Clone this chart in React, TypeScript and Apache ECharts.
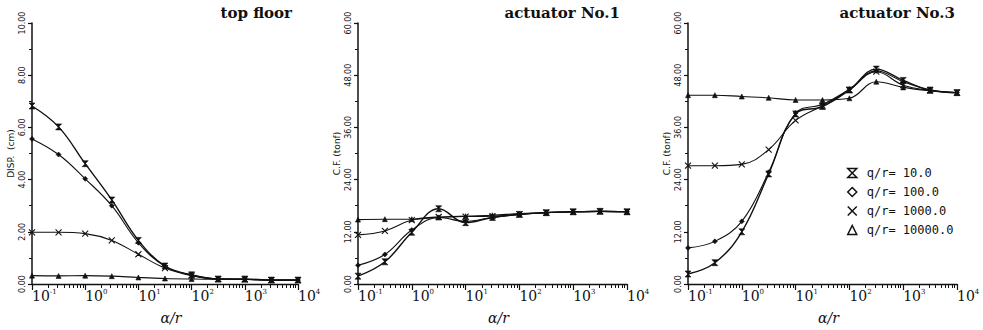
import React, { useEffect, useRef } from "react";
import * as echarts from "echarts";

// alpha / r values (log spaced, half decades)
const alphaR = [0.1, 0.316, 1, 3.16, 10, 31.6, 100, 316, 1000, 3160, 10000];
const seriesNames = ["q/r= 10.0", "q/r= 100.0", "q/r= 1000.0", "q/r= 10000.0"];
const panelTitles = ["top floor", "actuator No.1", "actuator No.3"];
const xTickLabels = [0.1, 1, 10, 100, 1000, 10000];
const xMinorTicks = [
  0.2, 0.3, 0.4, 0.5, 0.6, 0.7, 0.8, 0.9,
  2, 3, 4, 5, 6, 7, 8, 9,
  20, 30, 40, 50, 60, 70, 80, 90,
  200, 300, 400, 500, 600, 700, 800, 900,
  2000, 3000, 4000, 5000, 6000, 7000, 8000, 9000,
];

// top floor displacement (cm)
const disp10 = [6.82, 6.02, 4.61, 3.22, 1.67, 0.69, 0.35, 0.19, 0.19, 0.15, 0.15];
const disp100 = [5.56, 4.96, 4.03, 3.0, 1.58, 0.68, 0.34, 0.19, 0.18, 0.15, 0.15];
const disp1000 = [1.98, 1.98, 1.93, 1.67, 1.14, 0.61, 0.32, 0.19, 0.18, 0.15, 0.15];
const disp10000 = [0.32, 0.31, 0.32, 0.3, 0.25, 0.21, 0.19, 0.18, 0.17, 0.15, 0.15];

// actuator No.1 control force (tonf)
const act1_10 = [1.8, 5.1, 11.9, 17.3, 14.1, 15.3, 16.0, 16.4, 16.6, 16.7, 16.6];
const act1_100 = [4.3, 6.8, 12.4, 15.3, 14.4, 15.3, 16.0, 16.4, 16.6, 16.7, 16.6];
const act1_1000 = [11.3, 12.2, 14.7, 15.4, 15.5, 15.6, 16.0, 16.4, 16.6, 16.7, 16.6];
const act1_10000 = [14.8, 14.9, 14.9, 15.3, 15.6, 15.8, 16.2, 16.4, 16.6, 16.7, 16.6];

// actuator No.3 control force (tonf)
const act3_10 = [2.3, 4.9, 12.0, 25.3, 39.1, 40.8, 44.6, 49.4, 46.8, 44.6, 44.0];
const act3_100 = [8.3, 9.8, 14.4, 25.7, 39.3, 41.3, 44.8, 49.0, 46.5, 44.6, 44.0];
const act3_1000 = [27.2, 27.2, 27.5, 30.9, 37.6, 41.0, 44.6, 48.8, 45.7, 44.5, 44.0];
const act3_10000 = [43.4, 43.4, 43.1, 42.8, 42.3, 42.3, 42.7, 46.5, 45.2, 44.4, 43.9];

const panelData = [
  [disp10, disp100, disp1000, disp10000],
  [act1_10, act1_100, act1_1000, act1_10000],
  [act3_10, act3_100, act3_1000, act3_10000],
];

const HOURGLASS = "path://M0,0L10,0L0,10L10,10Z";
const CROSS = "path://M0,0L10,10M10,0L0,10";
const symbols = [HOURGLASS, "diamond", CROSS, "triangle"];
const symbolSizes = [6, 5, 6, 5];

const grids = [
  { left: 32, top: 23, width: 266, height: 264 },
  { left: 358, top: 23, width: 269, height: 264 },
  { left: 688, top: 23, width: 269, height: 264 },
];
const yMax = [10, 60, 60];
const yInterval = [2, 12, 12];
const yNames = ["DISP.  (cm)", "C.F. (tonf)", "C.F. (tonf)"];
const titleRight = [691, 363, 28];

export default function App() {
  const ref = useRef<HTMLDivElement>(null);
  useEffect(() => {
    if (!ref.current) return;
    const chart = echarts.init(ref.current, undefined, { renderer: "svg" });
    const ink = "#111";
    const xAxes: any[] = [];
    const yAxes: any[] = [];
    const series: any[] = [];
    grids.forEach((g, i) => {
      xAxes.push({
        type: "log",
        logBase: 10,
        gridIndex: i,
        min: 0.1,
        max: 10000,
        position: "bottom",
        name: "α/r",
        nameLocation: "middle",
        nameGap: 27,
        nameTextStyle: {
          fontFamily: "DejaVu Serif",
          fontStyle: "italic",
          fontSize: 14,
          color: ink,
          padding: [0, 0, 0, 12],
        },
        axisLine: { show: true, lineStyle: { color: ink, width: 1.3 } },
        axisTick: {
          show: true,
          inside: false,
          length: 6,
          customValues: xTickLabels,
          lineStyle: { color: ink, width: 1.2 },
        },
        axisLabel: {
          show: true,
          customValues: xTickLabels,
          align: "left",
          margin: 4,
          formatter: (v: number) => {
            const e = Math.round(Math.log10(v));
            return "{b|10}{s|" + e + "}";
          },
          rich: {
            b: { fontFamily: "DejaVu Serif", fontSize: 14, color: ink },
            s: { fontFamily: "DejaVu Serif", fontSize: 7, color: ink, padding: [0, 0, 8, 0] },
          },
        },
        splitLine: { show: false },
      });
      xAxes.push({
        type: "log",
        logBase: 10,
        gridIndex: i,
        min: 0.1,
        max: 10000,
        position: "bottom",
        axisLine: { show: false },
        axisTick: {
          show: true,
          inside: false,
          length: 4,
          customValues: xMinorTicks,
          lineStyle: { color: ink, width: 1 },
        },
        axisLabel: { show: false },
        splitLine: { show: false },
      });
      yAxes.push({
        type: "value",
        gridIndex: i,
        min: 0,
        max: yMax[i],
        interval: yInterval[i],
        name: yNames[i],
        nameLocation: "middle",
        nameGap: 17,
        nameTextStyle: { fontFamily: "DejaVu Sans", fontSize: 9, color: ink },
        axisLine: { show: true, lineStyle: { color: ink, width: 1.5 } },
        axisTick: { show: true, inside: false, length: 4, lineStyle: { color: ink, width: 1.2 } },
        minorTick: { show: true, splitNumber: 2, length: 3, lineStyle: { color: ink, width: 1 } },
        axisLabel: {
          rotate: 90,
          margin: 6,
          fontFamily: "DejaVu Sans",
          fontSize: 8,
          color: ink,
          formatter: (v: number) => v.toFixed(2),
        },
        splitLine: { show: false },
      });
      panelData[i].forEach((vals, k) => {
        series.push({
          type: "line",
          name: seriesNames[k],
          xAxisIndex: i * 2,
          yAxisIndex: i,
          data: alphaR.map((x, j) => [x, vals[j]]),
          smooth: 0.4,
          symbol: symbols[k],
          symbolSize: symbolSizes[k],
          showSymbol: true,
          lineStyle: { color: ink, width: k === 0 ? 1.4 : 1.1 },
          itemStyle: { color: ink, borderColor: ink, borderWidth: k === 2 ? 1.1 : 0.6 },
          emphasis: { disabled: true },
        });
      });
    });

    const legendIcon = { color: "#fff", borderColor: ink, borderWidth: 1.5 };
    chart.setOption({
      animation: false,
      backgroundColor: "#fff",
      title: panelTitles.map((t, i) => ({
        text: t,
        right: titleRight[i],
        top: 5,
        padding: 0,
        textStyle: { fontFamily: "DejaVu Serif", fontWeight: "bold", fontSize: 15, color: ink },
      })),
      legend: {
        orient: "vertical",
        left: 842,
        top: 162,
        itemWidth: 9,
        itemHeight: 9,
        itemGap: 7,
        selectedMode: false,
        lineStyle: { opacity: 0, width: 0 },
        textStyle: { fontFamily: "DejaVu Sans Mono", fontSize: 12, color: ink, padding: [0, 0, 0, 5] },
        data: seriesNames.map((n, k) => ({
          name: n,
          icon: symbols[k],
          itemStyle: legendIcon,
        })),
      },
      grid: grids.map((g) => ({ ...g, containLabel: false })),
      xAxis: xAxes,
      yAxis: yAxes,
      series,
    });
    return () => chart.dispose();
  }, []);
  return (
    <div
      ref={ref}
      style={{ position: "fixed", left: 0, top: 0, width: 983, height: 330 }}
    />
  );
}
